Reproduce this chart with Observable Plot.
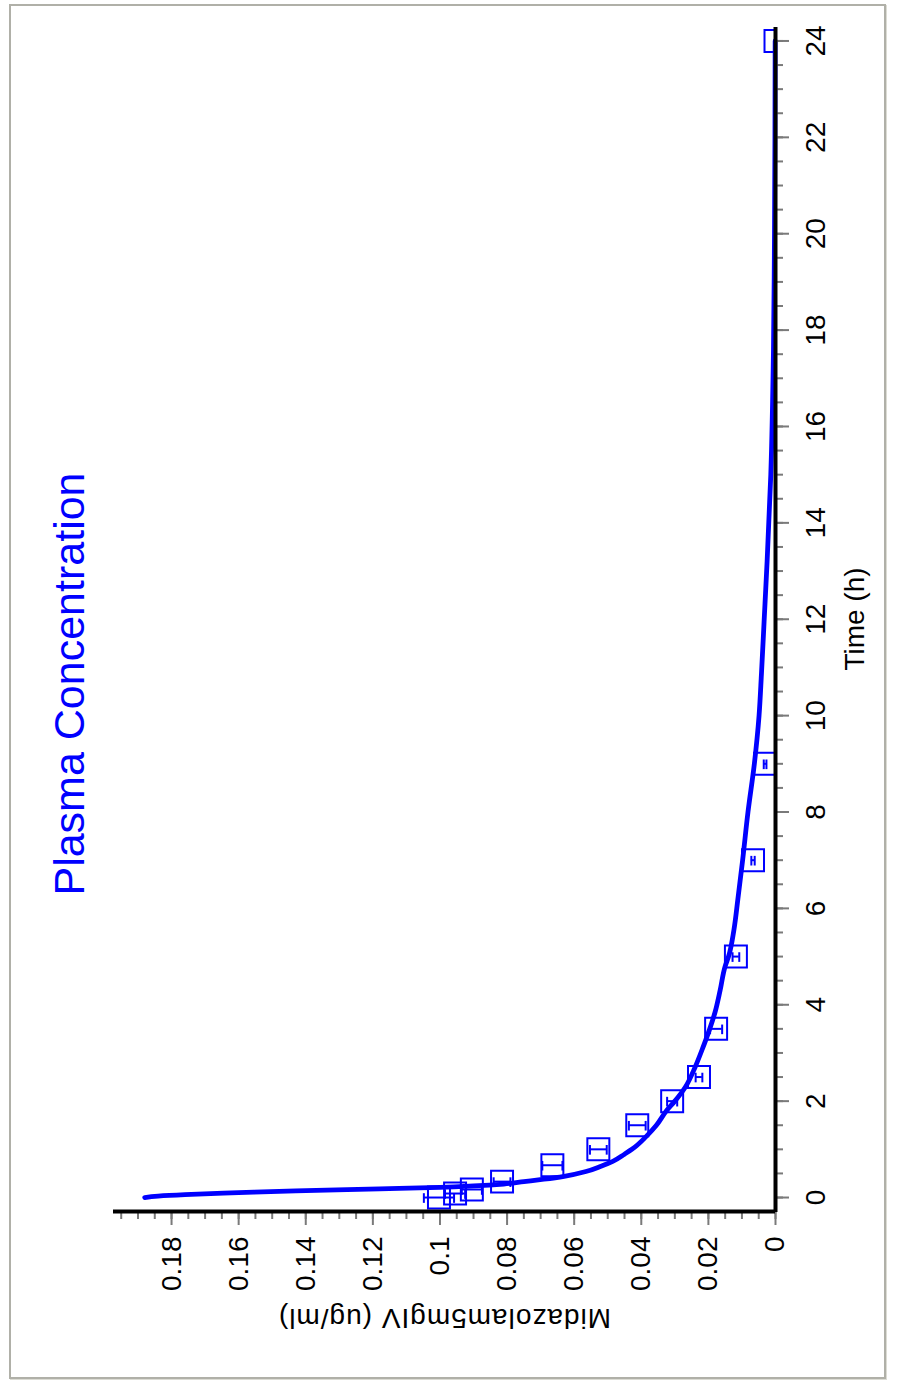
<!DOCTYPE html>
<html><head><meta charset="utf-8">
<script src="https://cdn.jsdelivr.net/npm/d3@7"></script>
<script src="https://cdn.jsdelivr.net/npm/@observablehq/plot@0.6"></script>
<style>
html,body{margin:0;padding:0;background:#fff;}
#page{position:relative;width:903px;height:1387px;overflow:hidden;background:#fff;}
#border{position:absolute;left:9px;top:4px;width:873px;height:1371px;border:2px solid #b0b0a8;box-shadow:1px 1px 0 #dcdcd4;}
#rot{position:absolute;left:0;top:0;width:1387px;height:903px;transform-origin:0 0;transform:translateY(1387px) rotate(-90deg);}
</style></head><body>
<div id="page"><div id="border"></div><div id="rot"></div></div>
<script>
const title = "Plasma Concentration";
const xLabel = "Time (h)";
const yLabel = "Midazolam5mgIV (ug/ml)";

const timeDomain = [-0.29, 24.3];
const concDomain = [0, 0.1973];
const timeTicks = [0, 2, 4, 6, 8, 10, 12, 14, 16, 18, 20, 22, 24];
const timeTickLabels = ["0", "2", "4", "6", "8", "10", "12", "14", "16", "18", "20", "22", "24"];
const concTicks = [0, 0.02, 0.04, 0.06, 0.08, 0.1, 0.12, 0.14, 0.16, 0.18];
const concTickLabels = ["0", "0.02", "0.04", "0.06", "0.08", "0.1", "0.12", "0.14", "0.16", "0.18"];
const timeMinorTicks = d3.range(0, 24.01, 0.5);
const concMinorTicks = d3.range(0, 0.1951, 0.005);

// observed (squares with error bars)
const obsTime = [0, 0.083, 0.167, 0.33, 0.67, 1, 1.5, 2, 2.5, 3.5, 5, 7, 9, 24];
const obsConc = [0.1003, 0.0955, 0.0905, 0.0815, 0.0665, 0.0528, 0.0412, 0.0308, 0.0228, 0.0177, 0.0118, 0.0067, 0.0031, 0];
const obsErr  = [0.0045, 0.003, 0.003, 0.0025, 0.003, 0.0025, 0.0025, 0.0015, 0.001, 0.0018, 0.001, 0.0005, 0.0004, 0];

// fitted curve
const fitTime = [0, 0.03, 0.06, 0.1, 0.14, 0.18, 0.21, 0.24, 0.28, 0.33, 0.38, 0.44, 0.54, 0.65, 0.75, 0.9, 1.0, 1.27, 1.5, 1.8, 2.0, 2.3, 2.7, 3.1, 3.5, 3.85, 4.3, 4.8, 5.0, 5.55, 6.2, 7.0, 8.0, 9.0, 10.0, 10.85, 11.95, 13.2, 15.0, 17.6, 20, 24];
const fitConc = [0.188, 0.184, 0.176, 0.160, 0.143, 0.118, 0.100, 0.090, 0.081, 0.075, 0.069, 0.063, 0.0565, 0.052, 0.0485, 0.045, 0.0428, 0.0385, 0.0355, 0.0325, 0.0300, 0.0268, 0.0240, 0.0217, 0.0196, 0.0180, 0.0165, 0.0150, 0.0140, 0.0124, 0.0112, 0.0098, 0.0082, 0.0063, 0.0049, 0.0042, 0.0034, 0.0025, 0.0014, 0.0006, 0.0003, 0.0001];

const obs = obsTime.map((t, i) => ({t, c: obsConc[i], e: obsErr[i]}));
const errs = obs.filter(d => d.e > 0);
const fit = fitTime.map((t, i) => ({t, c: fitConc[i]}));
const xFmt = new Map(timeTicks.map((d, i) => [d, timeTickLabels[i]]));
const yFmt = new Map(concTicks.map((d, i) => [d, concTickLabels[i]]));

const blue = "#0000ff";
const tickGray = "#7a7a7a";
const font = "'Liberation Sans', Arial, sans-serif";

const chart = Plot.plot({
  width: 1387,
  height: 903,
  marginLeft: 175,
  marginRight: 27,
  marginTop: 113,
  marginBottom: 128,
  style: {fontFamily: font, background: "transparent", overflow: "visible"},
  x: {domain: timeDomain},
  y: {domain: concDomain},
  marks: [
    Plot.line(fit, {x: "t", y: "c", stroke: blue, strokeWidth: 4.8, curve: "monotone-x"}),
    Plot.ruleX(errs, {x: "t", y1: d => d.c - d.e, y2: d => d.c + d.e, stroke: blue, strokeWidth: 2}),
    Plot.ruleY(errs, {y: d => d.c - d.e, x1: d => d.t - 0.1, x2: d => d.t + 0.1, stroke: blue, strokeWidth: 2}),
    Plot.ruleY(errs, {y: d => d.c + d.e, x1: d => d.t - 0.1, x2: d => d.t + 0.1, stroke: blue, strokeWidth: 2}),
    Plot.dot(obs, {x: "t", y: "c", symbol: "square", r: 12.4, stroke: blue, strokeWidth: 2, fill: "none", clip: true}),
    Plot.axisX(timeMinorTicks, {tickSize: 8, text: null, stroke: tickGray, strokeWidth: 2, label: null}),
    Plot.axisX(timeTicks, {tickSize: 14, tickPadding: 16, tickFormat: d => xFmt.get(d), stroke: tickGray, strokeWidth: 2, fontSize: 28, fill: "#000", label: null}),
    Plot.axisY(concMinorTicks, {tickSize: 7, text: null, stroke: tickGray, strokeWidth: 2, label: null}),
    Plot.axisY(concTicks, {tickSize: 13, tickPadding: 12, tickFormat: d => yFmt.get(d), stroke: tickGray, strokeWidth: 2, fontSize: 28, fill: "#000", label: null}),
    Plot.ruleY([concDomain[0]], {stroke: "#000", strokeWidth: 4}),
    Plot.ruleX([timeDomain[0]], {stroke: "#000", strokeWidth: 4}),
    Plot.text([yLabel], {text: d => d, frameAnchor: "left", rotate: -90, dx: -106, fontSize: 28, textAnchor: "middle", lineAnchor: "middle", fill: "#000"}),
    Plot.text([xLabel], {text: d => d, frameAnchor: "bottom", dy: 80, fontSize: 28, textAnchor: "middle", lineAnchor: "middle", fill: "#000"}),
    Plot.text([title], {text: d => d, frameAnchor: "top", dx: -65, dy: -43, fontSize: 43, textAnchor: "middle", lineAnchor: "middle", fill: blue})
  ]
});
d3.select(chart).selectAll("text").filter(function () { return this.textContent === yLabel; }).attr("letter-spacing", "1px");
document.getElementById("rot").appendChild(chart);
</script>
</body></html>
